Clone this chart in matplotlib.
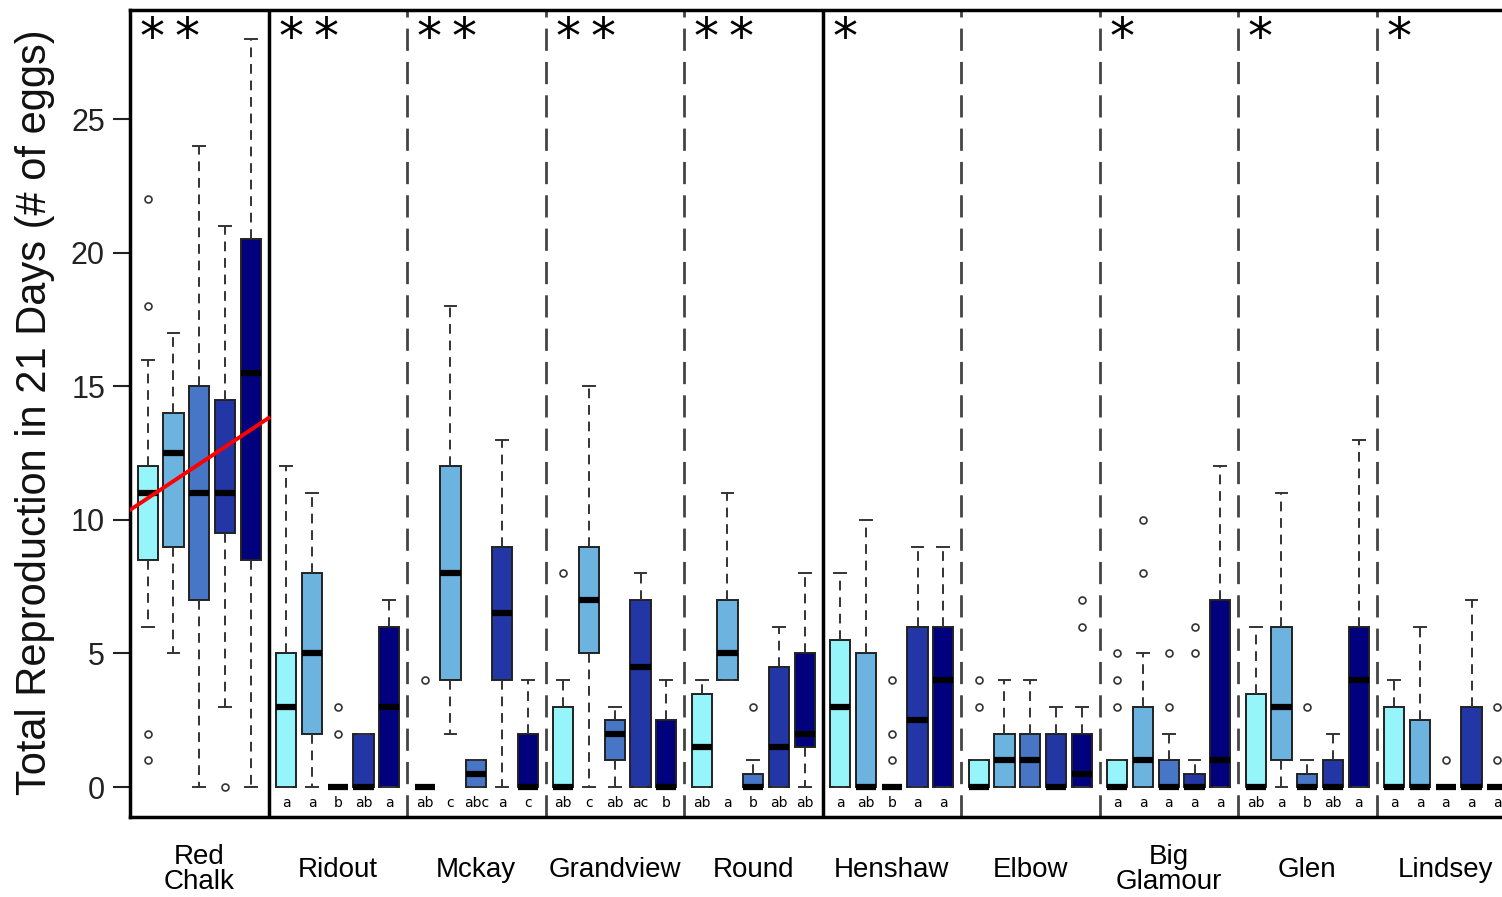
import matplotlib.pyplot as plt

plt.rcParams['font.family'] = ['Liberation Sans', 'DejaVu Sans']

lakes = ['Red\nChalk', 'Ridout', 'Mckay', 'Grandview', 'Round',
         'Henshaw', 'Elbow', 'Big\nGlamour', 'Glen', 'Lindsey']

# five treatments per lake, light -> dark
box_colors = ['#96F4FB', '#6DB3E0', '#4876C6', '#2336A6', '#01017E']

q1 = [[8.5, 9, 7, 9.5, 8.5],
      [0, 2, 0, 0, 0],
      [0, 4, 0, 4, 0],
      [0, 5, 1, 0, 0],
      [0, 4, 0, 0, 1.5],
      [0, 0, 0, 0, 0],
      [0, 0, 0, 0, 0],
      [0, 0, 0, 0, 0],
      [0, 1, 0, 0, 0],
      [0, 0, 0, 0, 0]]
medians = [[11, 12.5, 11, 11, 15.5],
           [3, 5, 0, 0, 3],
           [0, 8, 0.5, 6.5, 0],
           [0, 7, 2, 4.5, 0],
           [1.5, 5, 0, 1.5, 2],
           [3, 0, 0, 2.5, 4],
           [0, 1, 1, 0, 0.5],
           [0, 1, 0, 0, 1],
           [0, 3, 0, 0, 4],
           [0, 0, 0, 0, 0]]
q3 = [[12, 14, 15, 14.5, 20.5],
      [5, 8, 0, 2, 6],
      [0, 12, 1, 9, 2],
      [3, 9, 2.5, 7, 2.5],
      [3.5, 7, 0.5, 4.5, 5],
      [5.5, 5, 0, 6, 6],
      [1, 2, 2, 2, 2],
      [1, 3, 1, 0.5, 7],
      [3.5, 6, 0.5, 1, 6],
      [3, 2.5, 0, 3, 0]]
whisk_lo = [[6, 5, 0, 3, 0],
            [0, 0, 0, 0, 0],
            [0, 2, 0, 0, 0],
            [0, 0, 0, 0, 0],
            [0, 4, 0, 0, 0],
            [0, 0, 0, 0, 0],
            [0, 0, 0, 0, 0],
            [0, 0, 0, 0, 0],
            [0, 0, 0, 0, 0],
            [0, 0, 0, 0, 0]]
whisk_hi = [[16, 17, 24, 21, 28],
            [12, 11, 0, 2, 7],
            [0, 18, 1, 13, 4],
            [4, 15, 3, 8, 4],
            [4, 11, 1, 6, 8],
            [8, 10, 0, 9, 9],
            [1, 4, 4, 3, 3],
            [1, 5, 2, 1, 12],
            [6, 11, 1, 2, 13],
            [4, 6, 0, 7, 0]]
outliers = [[[22, 18, 2, 1], [], [], [0], []],
            [[], [], [3, 2], [], []],
            [[4], [], [], [], []],
            [[8], [], [], [], []],
            [[], [], [3], [], []],
            [[], [], [4, 2, 1], [], []],
            [[4, 3], [], [], [], [7, 6]],
            [[5, 4, 3], [10, 8], [5, 3], [6, 5], []],
            [[], [], [3], [], []],
            [[], [], [1], [], [3, 1]]]
letters = [['', '', '', '', ''],
           ['a', 'a', 'b', 'ab', 'a'],
           ['ab', 'c', 'abc', 'a', 'c'],
           ['ab', 'c', 'ab', 'ac', 'b'],
           ['ab', 'a', 'b', 'ab', 'ab'],
           ['a', 'ab', 'b', 'a', 'a'],
           ['', '', '', '', ''],
           ['a', 'a', 'a', 'a', 'a'],
           ['ab', 'a', 'b', 'ab', 'a'],
           ['a', 'a', 'a', 'a', 'a']]
stars = [2, 2, 2, 2, 2, 1, 0, 1, 1, 1]
solid_sep = [1, 5]

# fitted line in Red Chalk
trend_x = [0, 1]
trend_y = [10.37, 13.81]

fig = plt.figure(figsize=(15.02, 8.97), dpi=100)
ax = fig.add_axes([130 / 1502, 80 / 897, 1385 / 1502, 807 / 897])

step = 0.186
stats, pos, cols = [], [], []
for g in range(len(lakes)):
    for j in range(5):
        stats.append(dict(med=medians[g][j], q1=q1[g][j], q3=q3[g][j],
                          whislo=whisk_lo[g][j], whishi=whisk_hi[g][j],
                          fliers=outliers[g][j]))
        pos.append(g + 0.5 + (j - 2) * step)
        cols.append(box_colors[j])

bp = ax.bxp(stats, positions=pos, widths=0.145, capwidths=0.085,
            patch_artist=True, showfliers=True,
            boxprops=dict(edgecolor='#222222', linewidth=1.4),
            medianprops=dict(color='black', linewidth=4.5, solid_capstyle='butt'),
            whiskerprops=dict(color='#333333', linewidth=1.4, linestyle=(0, (5, 3.5))),
            capprops=dict(color='#333333', linewidth=1.4),
            flierprops=dict(marker='o', markerfacecolor='none',
                            markeredgecolor='#333333', markersize=5,
                            markeredgewidth=1.2))
for patch, c in zip(bp['boxes'], cols):
    patch.set_facecolor(c)

for g in range(1, len(lakes)):
    if g in solid_sep:
        ax.axvline(g, color='black', linewidth=2.5, zorder=0)
    else:
        ax.axvline(g, color='#444444', linewidth=2, linestyle=(0, (8, 4)), zorder=0)

ax.plot(trend_x, trend_y, color='red', linewidth=2.8, zorder=5)

for g, name in enumerate(lakes):
    ax.text(g + 0.5, -3.1, name, ha='center', va='center', fontsize=20,
            linespacing=0.95, clip_on=False)
    for j in range(5):
        ax.text(g + 0.5 + (j - 2) * step, -0.58, letters[g][j], ha='center',
                va='center', fontsize=10, family='DejaVu Sans')
    for s in range(stars[g]):
        ax.text(g + 0.16 + s * 0.255, 28.0, '*', ha='center', va='center',
                fontsize=36, family='DejaVu Sans')

ax.set_xlim(0, 10)
ax.set_ylim(-1.12, 29.08)
ax.set_xticks([])
ax.set_yticks([0, 5, 10, 15, 20, 25])
ax.tick_params(axis='y', length=12, width=1.5, labelsize=22, pad=6, colors='#222222')
for side in ['left', 'top', 'bottom']:
    ax.spines[side].set_linewidth(2.5)
ax.spines['right'].set_visible(False)

fig.text(35 / 1502, 1 - 412 / 897, 'Total Reproduction in 21 Days (# of eggs)',
         rotation=90, ha='center', va='center', fontsize=30, color='#111111')

fig.savefig('out.png', dpi=100)
